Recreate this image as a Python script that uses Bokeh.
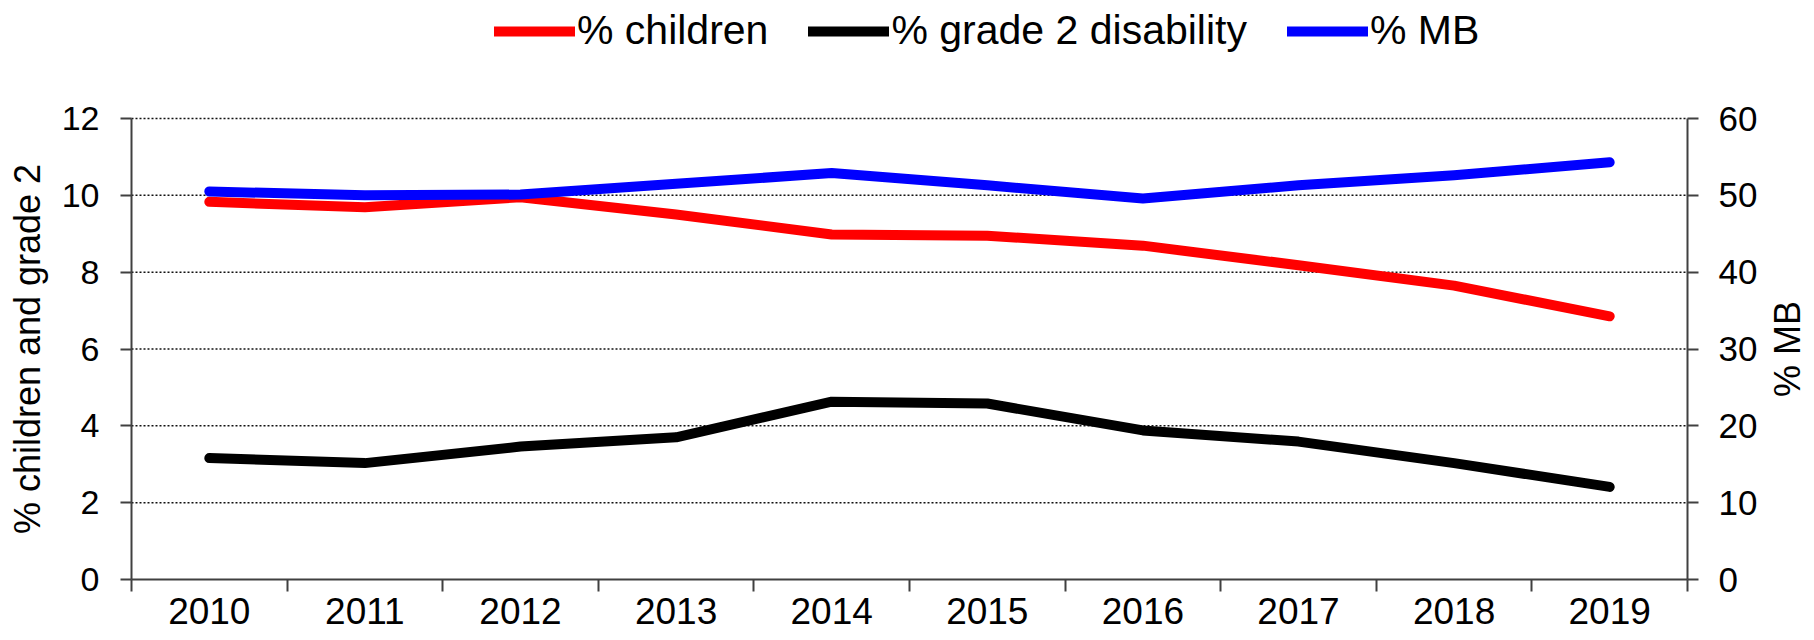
import math
from bokeh.plotting import figure
from bokeh.models import (Range1d, LinearAxis, FixedTicker, Legend, LegendItem, Label)
from bokeh.embed import file_html
from bokeh.resources import INLINE

# ---- data ----
years = ["2010", "2011", "2012", "2013", "2014", "2015", "2016", "2017", "2018", "2019"]
pct_children = [9.83, 9.69, 9.95, 9.50, 8.98, 8.95, 8.69, 8.18, 7.65, 6.85]
pct_grade2 = [3.16, 3.03, 3.46, 3.70, 4.63, 4.58, 3.88, 3.59, 3.03, 2.41]
pct_mb = [50.5, 50.0, 50.1, 51.5, 52.9, 51.3, 49.6, 51.3, 52.6, 54.3]
series_names = ["% children", "% grade 2 disability", "% MB"]
series_colors = ["#FF0000", "#000000", "#0000FF"]
left_title = "% children and grade 2"
right_title = "% MB"
left_ticks = [0, 2, 4, 6, 8, 10, 12]
right_ticks = [0, 10, 20, 30, 40, 50, 60]
left_max, right_max = 12, 60

FONT = "Liberation Sans"
AX = "#404040"
LW = 10

# ---- layout (screen px inside the figure; the frame fills the figure) ----
W, H = 1812, 638
AREA_LEFT = 131       # screen x of the left axis
AREA_W = 1556         # width of the category area
AREA_TOP = 118        # screen y of value 12
AREA_BOTTOM = 579     # screen y of value 0
AREA_H = AREA_BOTTOM - AREA_TOP

n = len(years)
xpos = [i + 0.5 for i in range(n)]
bounds = list(range(n + 1))

x0 = -n * AREA_LEFT / AREA_W
x1 = n * (W - AREA_LEFT) / AREA_W
lo = (H - AREA_BOTTOM) / AREA_H
hi = AREA_BOTTOM / AREA_H

p = figure(width=W, height=H,
           x_range=Range1d(x0, x1),
           y_range=Range1d(-left_max * lo, left_max * hi),
           output_backend="svg", toolbar_location=None,
           min_border_left=0, min_border_top=0, min_border_right=0,
           min_border_bottom=0, x_axis_location=None, y_axis_location=None)
p.outline_line_color = None
p.extra_y_ranges = {"mb": Range1d(-right_max * lo, right_max * hi)}
p.xgrid.visible = False
p.ygrid.visible = False

# dotted horizontal grid lines at the left-axis ticks
grid_y = left_ticks[1:]
p.segment(x0=[0] * len(grid_y), x1=[n] * len(grid_y), y0=grid_y, y1=grid_y,
          line_color="#111111", line_width=1.5, line_dash="2 2")

r_child = p.line(xpos, pct_children, color=series_colors[0], line_width=LW,
                 line_cap="round", line_join="round")
r_g2 = p.line(xpos, pct_grade2, color=series_colors[1], line_width=LW,
              line_cap="round", line_join="round")
r_mb = p.line(xpos, pct_mb, color=series_colors[2], line_width=LW,
              line_cap="round", line_join="round", y_range_name="mb")


def style_axis(ax, size):
    ax.major_tick_in = 0
    ax.axis_line_color = AX
    ax.axis_line_width = 2
    ax.major_label_text_font = FONT
    ax.major_label_text_font_size = size
    ax.major_label_text_color = "black"


# x axis, drawn at value 0
xa = LinearAxis(fixed_location=0, bounds=(0, n),
                ticker=FixedTicker(ticks=xpos, minor_ticks=bounds))
style_axis(xa, "37px")
xa.major_label_overrides = {x: y for x, y in zip(xpos, years)}
xa.major_tick_out = 0
xa.minor_tick_out = 12
xa.minor_tick_in = 0
xa.minor_tick_line_color = AX
xa.minor_tick_line_width = 2
xa.major_label_standoff = 6
p.add_layout(xa, "below")

# left y axis at the first category boundary
ya = LinearAxis(fixed_location=0, bounds=(0, left_max),
                ticker=FixedTicker(ticks=left_ticks, minor_ticks=[]))
style_axis(ya, "34px")
ya.major_tick_out = 11
ya.major_tick_line_color = AX
ya.major_tick_line_width = 2
ya.major_label_standoff = 21
p.add_layout(ya, "left")

# right y axis at the last category boundary
ra = LinearAxis(y_range_name="mb", fixed_location=n, bounds=(0, right_max),
                ticker=FixedTicker(ticks=right_ticks, minor_ticks=[]))
style_axis(ra, "35px")
ra.major_tick_out = 11
ra.major_tick_line_color = AX
ra.major_tick_line_width = 2
ra.major_label_standoff = 20
p.add_layout(ra, "right")

# axis titles
mid_y = H - (AREA_TOP + AREA_BOTTOM) / 2
for txt, sx in ((left_title, 27), (right_title, 1787)):
    p.add_layout(Label(x=sx, y=mid_y, x_units="screen", y_units="screen",
                       text=txt, angle=math.pi / 2, text_align="center",
                       text_baseline="middle", text_font=FONT,
                       text_font_size="36px", text_color="black"))

# legend in the strip above the value area
legend = Legend(items=[
    LegendItem(label=series_names[0], renderers=[r_child]),
    LegendItem(label=series_names[1], renderers=[r_g2]),
    LegendItem(label=series_names[2], renderers=[r_mb]),
], orientation="horizontal", location=(494, H - 54))
legend.label_text_font = FONT
legend.label_text_font_size = "41px"
legend.label_text_color = "black"
legend.glyph_width = 81
legend.glyph_height = 40
legend.label_height = 40
legend.label_standoff = 2
legend.spacing = 40
legend.padding = 0
legend.margin = 0
legend.border_line_color = None
legend.background_fill_alpha = 0
p.add_layout(legend, "center")

open("out.html", "w").write(file_html(p, INLINE))
